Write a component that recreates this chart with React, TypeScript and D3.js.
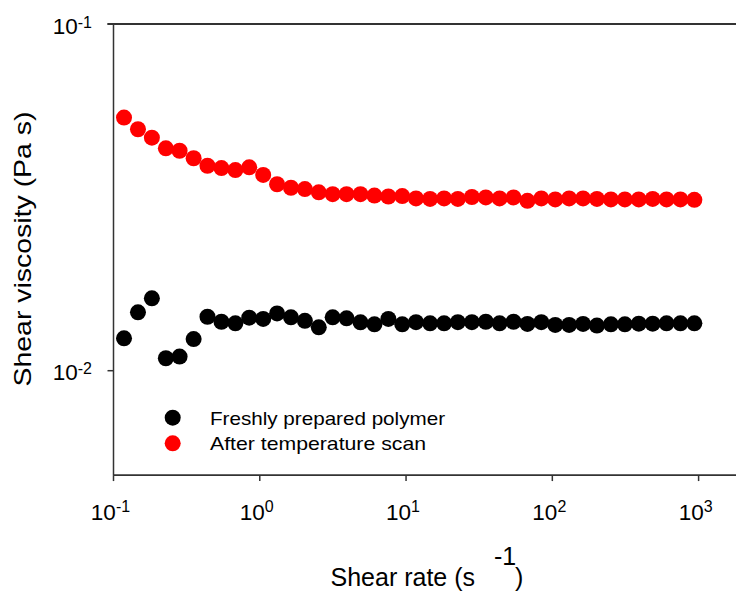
import React from "react";
import * as d3 from "d3";

const shearRate = [0.118, 0.147, 0.183, 0.228, 0.283, 0.353, 0.439, 0.547, 0.681, 0.847, 1.055, 1.313, 1.634, 2.034, 2.531, 3.15, 3.92, 4.88, 6.08, 7.57, 9.42, 11.7, 14.6, 18.2, 22.6, 28.2, 35.1, 43.6, 54.3, 67.6, 84.1, 104.7, 130.3, 162.2, 201.8, 251.5, 313.3, 389.9, 485.3, 604.0, 751.6, 935.4];

const freshViscosity = [0.0124, 0.01474, 0.01617, 0.01086, 0.01098, 0.01234, 0.01431, 0.01384, 0.0137, 0.01422, 0.0141, 0.01463, 0.01425, 0.01393, 0.01334, 0.01425, 0.01416, 0.01379, 0.01361, 0.0141, 0.01361, 0.0138, 0.0137, 0.0137, 0.0138, 0.0138, 0.01384, 0.0137, 0.01384, 0.01364, 0.0138, 0.01355, 0.01355, 0.01364, 0.01349, 0.01361, 0.01361, 0.01367, 0.01367, 0.0137, 0.0137, 0.0137];

const scannedViscosity = [0.0537, 0.0497, 0.047, 0.0438, 0.0431, 0.041, 0.039, 0.0384, 0.0379, 0.0386, 0.0367, 0.0345, 0.0337, 0.0334, 0.0327, 0.0323, 0.0323, 0.0323, 0.032, 0.0318, 0.0319, 0.0314, 0.0313, 0.0314, 0.0313, 0.0317, 0.0316, 0.0314, 0.0316, 0.0309, 0.0314, 0.0312, 0.0314, 0.0314, 0.0313, 0.0312, 0.0312, 0.0312, 0.0313, 0.0312, 0.0312, 0.0311];

const xTicks = [0.1, 1, 10, 100, 1000];
const xTickExp = ["-1", "0", "1", "2", "3"];
const yTicks = [0.1, 0.01];
const yTickExp = ["-1", "-2"];

const seriesNames = ["Freshly prepared polymer", "After temperature scan"];
const seriesColors = ["#000000", "#ff0000"];

const W = 736;
const H = 592;
const FONT = "Arial, 'Liberation Sans', Helvetica, sans-serif";

export default function App() {
  const x = d3.scaleLog().domain([0.1, 1000]).range([113.5, 698.6]);
  const y = d3.scaleLog().domain([0.1, 0.01]).range([24, 370.7]);
  const yBottom = y(0.005);
  const xLeft = x(0.1);
  const xRight = W + 10;
  const r = 8;
  const axisColor = "#333";

  const series = [freshViscosity, scannedViscosity];

  return (
    <svg
      width={W}
      height={H}
      style={{ position: "absolute", left: 0, top: 0, display: "block", background: "#fff" }}
      fontFamily={FONT}
    >
      {/* axes */}
      <line x1={xLeft} x2={xLeft} y1={y(0.1)} y2={yBottom} stroke={axisColor} strokeWidth={1.5} />
      <line x1={xLeft} x2={xRight} y1={yBottom} y2={yBottom} stroke={axisColor} strokeWidth={1.8} />
      <line x1={xLeft - 6} x2={xRight} y1={y(0.1)} y2={y(0.1)} stroke={axisColor} strokeWidth={1.8} />

      {xTicks.map((t, i) => (
        <g key={"xt" + i}>
          <line x1={x(t)} x2={x(t)} y1={yBottom} y2={yBottom + 6} stroke={axisColor} strokeWidth={1.5} />
          <text x={x(t) - 3} y={520} fontSize={22.5} textAnchor="middle" fill="#000">
            10
            <tspan fontSize={16} dy={-8}>{xTickExp[i]}</tspan>
          </text>
        </g>
      ))}

      {yTicks.map((t, i) => (
        <g key={"yt" + i}>
          <line x1={xLeft - 6} x2={xLeft} y1={y(t)} y2={y(t)} stroke={axisColor} strokeWidth={1.5} />
          <text x={92} y={y(t) + 9.5} fontSize={22.5} textAnchor="end" fill="#000">
            10
            <tspan fontSize={16} dy={-6}>{yTickExp[i]}</tspan>
          </text>
        </g>
      ))}

      {/* data */}
      {series.map((vals, si) =>
        vals.map((v, i) => (
          <circle key={si + "-" + i} cx={x(shearRate[i])} cy={y(v)} r={r} fill={seriesColors[si]} />
        ))
      )}

      {/* legend */}
      {seriesNames.map((name, i) => (
        <g key={"lg" + i}>
          <circle cx={172.7} cy={417.7 + i * 25.6} r={r} fill={seriesColors[i]} />
          <text x={210} y={424.5 + i * 25.6} fontSize={18.5} fill="#000" textLength={i === 0 ? 235 : 216} lengthAdjust="spacingAndGlyphs">
            {name}
          </text>
        </g>
      ))}

      {/* axis titles */}
      <text x={330.5} y={586} fontSize={25} fill="#000">
        Shear rate (s
      </text>
      <text x={494} y={565} fontSize={25} fill="#000">-1</text>
      <text x={515} y={586} fontSize={25} fill="#000">)</text>

      <text
        transform={`translate(31, 249) rotate(-90)`}
        fontSize={24}
        textAnchor="middle"
        fill="#000"
        textLength={275}
        lengthAdjust="spacingAndGlyphs"
      >
        Shear viscosity (Pa s)
      </text>
    </svg>
  );
}
